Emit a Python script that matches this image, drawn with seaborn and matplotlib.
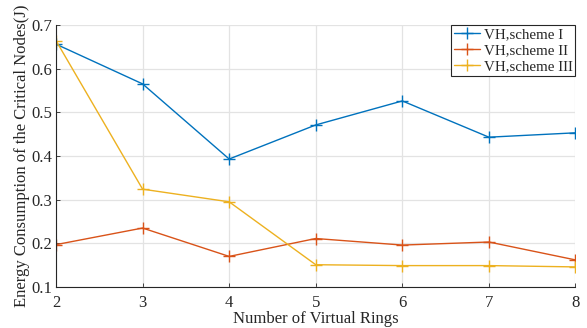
import matplotlib
matplotlib.use("Agg")
import matplotlib.pyplot as plt
import seaborn as sns
import pandas as pd

rings = [2, 3, 4, 5, 6, 7, 8]
scheme_1 = [0.656, 0.565, 0.393, 0.471, 0.526, 0.443, 0.453]
scheme_2 = [0.197, 0.235, 0.170, 0.211, 0.196, 0.203, 0.162]
scheme_3 = [0.664, 0.324, 0.295, 0.151, 0.149, 0.149, 0.146]
labels = ["VH,scheme I", "VH,scheme II", "VH,scheme III"]
colors = ["#0072BD", "#D95319", "#EDB120"]

df = pd.DataFrame({
    "rings": rings * 3,
    "energy": scheme_1 + scheme_2 + scheme_3,
    "scheme": [labels[0]] * 7 + [labels[1]] * 7 + [labels[2]] * 7,
})

sns.set_theme(style="whitegrid")
plt.rcParams["font.family"] = ["Liberation Serif", "DejaVu Serif"]

fig = plt.figure(figsize=(5.87, 3.28), dpi=100)
ax = fig.add_axes([0.0954, 0.125, 0.885, 0.799])

sns.lineplot(data=df, x="rings", y="energy", hue="scheme", palette=colors,
             marker="+", markersize=8, linewidth=1.0, ax=ax)

# "+" markers in the line colour
for line in ax.lines:
    line.set_markeredgecolor(line.get_color())
    line.set_markeredgewidth(1.0)

ax.set_xlim(2, 8)
ax.set_ylim(0.1, 0.7)
ax.set_xticks(rings)
ax.set_yticks([0.1, 0.2, 0.3, 0.4, 0.5, 0.6, 0.7])
ax.set_yticklabels(["0.1", "0.2", "0.3", "0.4", "0.5", "0.6", "0.7"])
ax.grid(True, color="#e3e3e3", linewidth=0.9)
ax.set_facecolor("white")
for side in ["top", "right"]:
    ax.spines[side].set_visible(False)
for side in ["left", "bottom"]:
    ax.spines[side].set_color("#262626")
    ax.spines[side].set_linewidth(0.8)
ax.tick_params(axis="both", direction="in", length=3, width=0.6, colors="#262626",
               labelsize=12)
ax.tick_params(axis="x", pad=6)
ax.tick_params(axis="y", pad=3)
ax.tick_params(left=True, bottom=True)

ax.set_xlabel("Number of Virtual Rings", fontsize=12, color="#262626", labelpad=0)
ax.set_ylabel("Energy Consumption of the Critical Nodes(J)", fontsize=12,
              color="#262626", labelpad=1)

leg = ax.legend(loc="upper right", fontsize=10.8, frameon=True, fancybox=False,
                borderaxespad=0.0, handlelength=1.7, handletextpad=0.25,
                borderpad=0.2, labelspacing=0.15)
leg.get_frame().set_edgecolor("#262626")
leg.get_frame().set_linewidth(0.8)
leg.get_frame().set_alpha(1)
for h in leg.legend_handles:
    h.set_markeredgecolor(h.get_color())
    h.set_markeredgewidth(1.0)

fig.savefig("out.png", dpi=100)
